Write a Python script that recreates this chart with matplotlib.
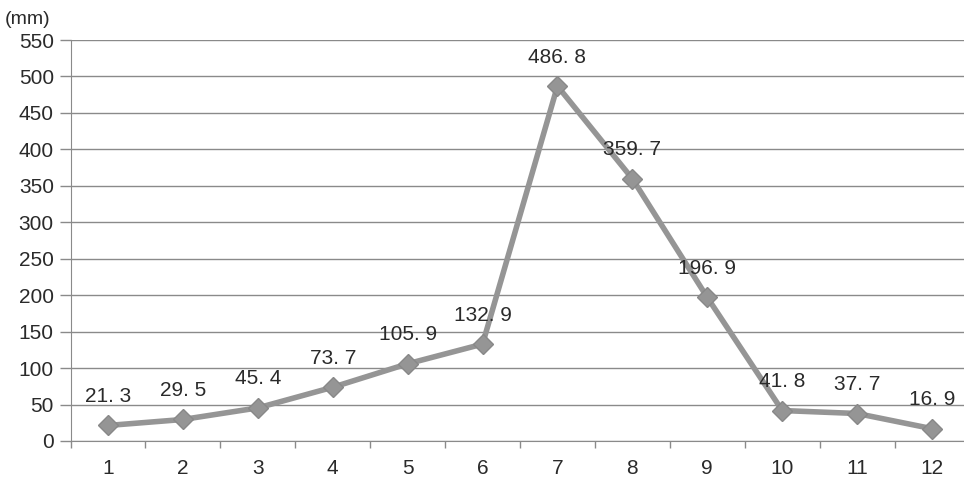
import matplotlib
matplotlib.use("Agg")
import matplotlib.pyplot as plt
import numpy as np

months = [1, 2, 3, 4, 5, 6, 7, 8, 9, 10, 11, 12]
rainfall = [21.3, 29.5, 45.4, 73.7, 105.9, 132.9, 486.8, 359.7, 196.9, 41.8, 37.7, 16.9]
yticks = [0, 50, 100, 150, 200, 250, 300, 350, 400, 450, 500, 550]

plt.rcParams['font.family'] = ['Liberation Sans', 'DejaVu Sans']

fig = plt.figure(figsize=(9.64, 4.84), dpi=100)
ax = fig.add_axes([70.5 / 964, 1 - 441 / 484, 899 / 964, 401 / 484])

line_col = "#959595"
grid_col = "#8a8a8a"
text_col = "#2a2a2a"

ax.plot(months, rainfall, '-', color=line_col, linewidth=4, marker='D', markersize=10,
        markerfacecolor=line_col, markeredgecolor="#888888", zorder=3)

for m, v in zip(months, rainfall):
    ax.annotate(f"{v:.1f}".replace('.', '. '), (m, v), xytext=(0, 14), textcoords='offset points',
                ha='center', va='bottom', fontsize=15, color=text_col, zorder=4)

ax.set_xlim(0.5, 12.5)
ax.set_ylim(0, 550)
ax.set_yticks(yticks)
ax.set_xticks(months)
ax.set_xticks(np.arange(0.5, 13, 1), minor=True)
ax.tick_params(axis='y', length=8, width=1, color=grid_col, labelsize=15, labelcolor=text_col, pad=4)
ax.tick_params(axis='x', which='major', length=0, labelsize=15, labelcolor=text_col, pad=13)
ax.tick_params(axis='x', which='minor', length=5, width=1, color=grid_col, direction='out')
ax.yaxis.grid(True, color=grid_col, linewidth=1)
ax.set_axisbelow(True)
for s in ['top', 'right']:
    ax.spines[s].set_visible(False)
ax.spines['left'].set_color(grid_col)
ax.spines['bottom'].set_color(grid_col)

fig.text(5 / 964, 1 - 19 / 484, "(mm)", fontsize=14, color=text_col, va='center', ha='left')

fig.savefig("out.png", dpi=100)
